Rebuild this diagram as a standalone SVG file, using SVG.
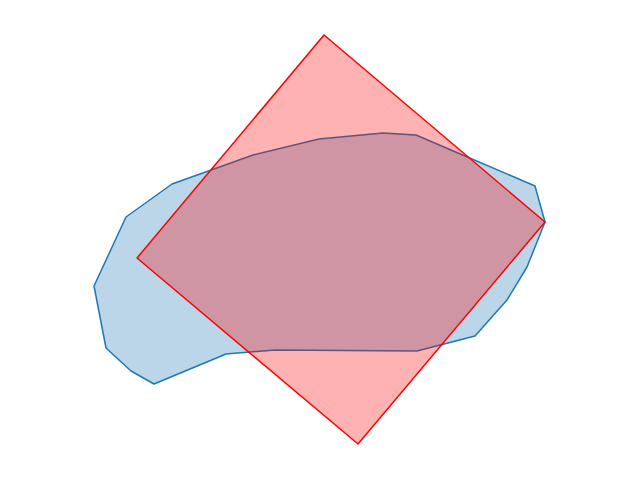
<svg xmlns="http://www.w3.org/2000/svg" width="640" height="480" viewBox="0 0 640 480">
<style>
.blue{fill:#1f77b4;fill-opacity:0.3;stroke:#1f77b4;stroke-width:1.5;stroke-linejoin:round}
.red{fill:#ff0000;fill-opacity:0.3;stroke:#ff0000;stroke-width:1.5;stroke-linejoin:round}
</style>
<rect width="640" height="480" fill="#ffffff"/>
<g id="blob">
<polygon class="blue" points="172,184 253,155 319,139 383,133 416,135 465,156 535,186 545,222 527,267 507,300 475,336 417,351 275,350 226,354 154,384 131,371 106,348 94,286 126,217"/>
</g>
<g id="diamond">
<polygon class="red" points="324,35 545,222 358,444 137,258"/>
</g>
</svg>
